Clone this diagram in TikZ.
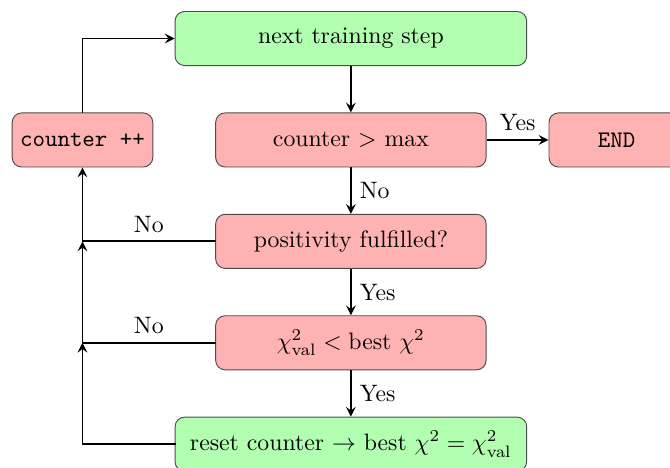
\documentclass[tikz,border=0pt]{standalone}
\usepackage[dvipsnames]{xcolor}

\begin{document}
\begin{tikzpicture}[->,>=stealth,auto,node distance=1.5cm,thick,
    box node/.style={rectangle,rounded corners,draw=black!70,thin,minimum height=0.8cm,font=\normalsize},
    go node/.style={box node,fill=green!30,minimum width=5.2cm},
    test node/.style={box node,fill=red!30,minimum width=4cm},
    leg/.style={-,line cap=rect}]
                \useasboundingbox (-5.19,0.57) rectangle (4.72,-6.35);

                \node[go node] (next) {next training step};
                \node[test node] (max) [below of=next] {counter $>$ max};
                \node[test node] (pos) [below of=max] {positivity fulfilled?};
                \node[test node] (chi) [below of=pos] {$\chi^2_{\mathrm{val}} < \mbox{best } \chi^2$};
                \node[go node] (reset) [below of=chi] {reset counter $\rightarrow$ best $\chi^2 = \chi^2_{\mathrm{val}}$};
                \node[box node,fill=red!30,font=\ttfamily] (cnt) [left of=max,node distance=3.97cm] {counter ++};
                \node[box node,fill=red!30,minimum width=2cm,font=\ttfamily] (end) [right of=max,node distance=3.93cm] {END};

                \coordinate (j0) at (cnt |- next);
                \coordinate (j1) at (cnt |- pos);
                \coordinate (j2) at (cnt |- chi);
                \coordinate (j3) at (cnt |- reset);

                \path
                    (next) edge (max)
                    (max) edge node {Yes} (end)
                    (max) edge node {No} (pos)
                    (pos) edge node {Yes} (chi)
                    (chi) edge node {Yes} (reset)
                    % loops back to the counter
                    (pos) edge [leg] node [above] {No} (j1)
                    (j1) edge (cnt)
                    (chi) edge [leg] node [above] {No} (j2)
                    (j2) edge (j1)
                    (reset) edge [leg] (j3)
                    (j3) edge (j2)
                    (cnt) edge [leg] (j0)
                    (j0) edge (next)
                    ;
            \end{tikzpicture}
\end{document}
